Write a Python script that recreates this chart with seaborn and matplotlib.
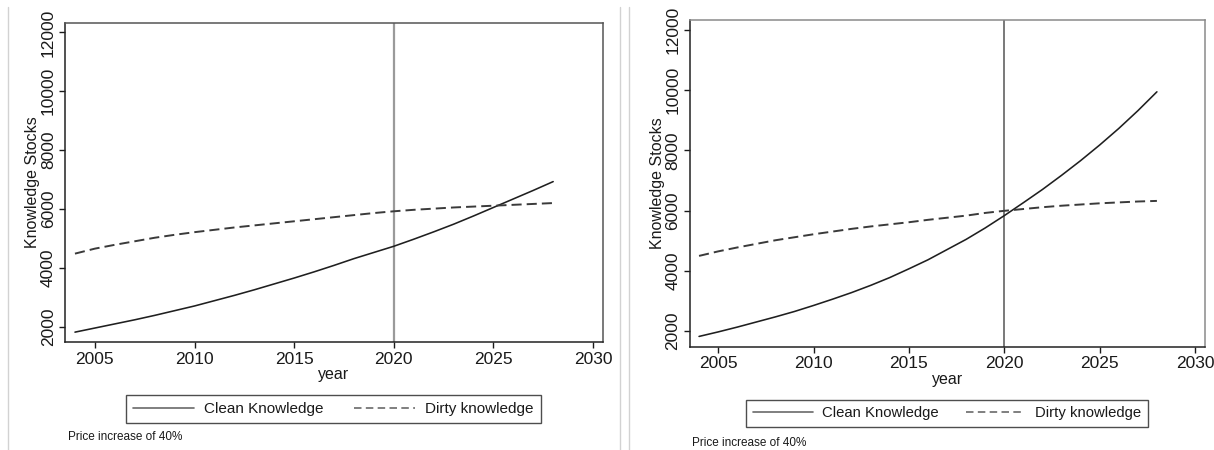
import numpy as np
import pandas as pd
import matplotlib
matplotlib.use("Agg")
import matplotlib.pyplot as plt
import seaborn as sns
from matplotlib.lines import Line2D

# ---------------- data ----------------
years = list(range(2004, 2029))

clean_left = [1810, 1950, 2090, 2230, 2380, 2540, 2700, 2880, 3060, 3250,
              3450, 3650, 3860, 4080, 4310, 4520, 4730, 4970, 5220, 5480,
              5760, 6050, 6340, 6630, 6930]
dirty_left = [4480, 4650, 4780, 4900, 5020, 5120, 5210, 5290, 5370, 5440,
              5510, 5580, 5650, 5720, 5790, 5860, 5920, 5970, 6010, 6050,
              6080, 6110, 6140, 6170, 6200]

clean_right = [1810, 1960, 2120, 2290, 2460, 2640, 2840, 3050, 3270, 3510,
               3770, 4060, 4360, 4700, 5040, 5420, 5830, 6260, 6700, 7170,
               7660, 8180, 8730, 9320, 9950]
dirty_right = [4490, 4640, 4770, 4890, 5010, 5110, 5210, 5300, 5390, 5470,
               5540, 5610, 5690, 5760, 5830, 5920, 5990, 6050, 6110, 6160,
               6200, 6240, 6270, 6300, 6320]

series_names = ["Clean Knowledge", "Dirty knowledge"]
x_ticks = [2005, 2010, 2015, 2020, 2025, 2030]
y_ticks = [2000, 4000, 6000, 8000, 10000, 12000]
policy_year = 2020
x_label = "year"
y_label = "Knowledge Stocks"
note_text = "Price increase of 40%"

# ---------------- style ----------------
sns.set_theme(style="ticks")
plt.rcParams['font.family'] = ['Liberation Sans', 'DejaVu Sans']
plt.rcParams['text.color'] = '#1a1a1a'
plt.rcParams['axes.labelcolor'] = '#1a1a1a'
plt.rcParams['xtick.color'] = '#1a1a1a'
plt.rcParams['ytick.color'] = '#1a1a1a'

W, H = 1214, 450
fig = plt.figure(figsize=(W / 100, H / 100), dpi=100)
fig.patch.set_facecolor('white')


def fx(px):
    return px / W


def fy(py):
    return 1 - py / H


panels = [
    dict(rect=[fx(65), fy(342), fx(603 - 65), (342 - 22.5) / H],
         clean=clean_left, dirty=dirty_left, vcol='#9a9a9a', vlw=1.6,
         frame_col='#555555', leg_fs=11, leg_cs=2.0,
         leg_center=(333.5, 409), note_pos=(68, 437)),
    dict(rect=[fx(689.5), fy(346.5), fx(1204.6 - 689.5), (346.5 - 20) / H],
         clean=clean_right, dirty=dirty_right, vcol='#555555', vlw=1.1,
         frame_col='#8a8a8a', leg_fs=10.7, leg_cs=1.8,
         leg_center=(947, 413.5), note_pos=(692, 443)),
]

dash_pattern = (5.2, 2.6)

for p in panels:
    ax = fig.add_axes(p["rect"])
    ax.set_facecolor('white')
    ax.axvline(policy_year, color=p["vcol"], lw=p["vlw"], zorder=1)

    df = pd.DataFrame({
        "year": years * 2,
        "value": p["clean"] + p["dirty"],
        "series": [series_names[0]] * len(years) + [series_names[1]] * len(years),
    })
    sns.lineplot(data=df[df["series"] == series_names[0]], x="year", y="value",
                 color='#1f1f1f', linewidth=1.15, ax=ax, legend=False, zorder=3)
    sns.lineplot(data=df[df["series"] == series_names[1]], x="year", y="value",
                 color='#3a3a3a', linewidth=1.4, linestyle=(0, dash_pattern),
                 ax=ax, legend=False, zorder=3)

    ax.set_xlim(2003.5, 2030.5)
    ax.set_ylim(1475, 12340)
    ax.set_xticks(x_ticks)
    ax.set_yticks(y_ticks)
    ax.set_xticklabels([str(t) for t in x_ticks])
    ax.set_yticklabels([str(t) for t in y_ticks], rotation=90, va='center')
    ax.tick_params(axis='both', direction='out', length=4.5, width=1.0,
                   labelsize=12.5, bottom=True, left=True, top=False, right=False)
    ax.tick_params(axis='x', pad=2.5)
    ax.tick_params(axis='y', pad=2.0)
    ax.set_xlabel(x_label, fontsize=11.5, labelpad=0.5)
    ax.set_ylabel(y_label, fontsize=11.5, labelpad=0.5)

    for side in ["left", "bottom"]:
        ax.spines[side].set_color('#222222')
        ax.spines[side].set_linewidth(1.1)
        ax.spines[side].set_visible(True)
    for side in ["top", "right"]:
        ax.spines[side].set_visible(True)
        ax.spines[side].set_color(p["frame_col"])
        ax.spines[side].set_linewidth(1.1)

    handles = [Line2D([0], [0], color='#6a6a6a', lw=1.2),
               Line2D([0], [0], color='#6a6a6a', lw=1.2, linestyle=(0, (4.5, 2.6)))]
    cx, cy = p["leg_center"]
    leg = fig.legend(handles, series_names, loc='center',
                     bbox_to_anchor=(fx(cx), fy(cy)), ncol=2, frameon=True,
                     fancybox=False, shadow=False, fontsize=p["leg_fs"],
                     handlelength=4.0, handletextpad=0.65, columnspacing=p["leg_cs"],
                     borderpad=0.45, borderaxespad=0)
    leg.get_frame().set_edgecolor('#222222')
    leg.get_frame().set_linewidth(1.0)
    leg.get_frame().set_facecolor('white')

    nx, ny = p["note_pos"]
    fig.text(fx(nx), fy(ny), note_text, fontsize=8.5, ha='left', va='center')

# panel separators
for xpix in [8, 620, 629]:
    fig.add_artist(Line2D([fx(xpix), fx(xpix)], [fy(7), 0], color='#d2d2d2',
                          lw=1.0, transform=fig.transFigure))

fig.savefig("out.png", dpi=100, facecolor='white')
